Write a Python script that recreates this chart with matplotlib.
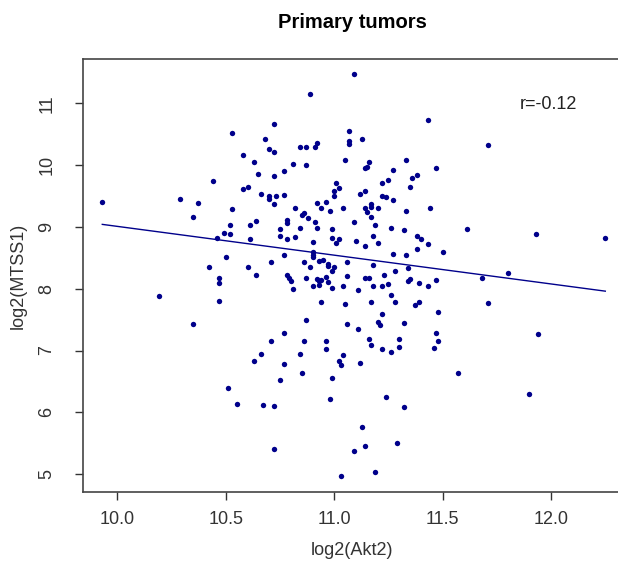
import numpy as np
import matplotlib
matplotlib.use("Agg")
import matplotlib.pyplot as plt

plt.rcParams['font.family'] = ['Liberation Sans', 'DejaVu Sans']

# values
akt2 = [10.53, 10.68, 10.58, 10.63, 10.65, 10.44, 10.58, 10.60, 10.66, 10.29,
        10.37, 9.93, 11.09, 10.89, 11.43, 10.72, 11.07, 11.07, 11.07, 11.13,
        10.92, 10.91, 10.70, 10.72, 10.84, 10.87, 11.05, 11.16, 11.14, 11.15,
        11.33, 11.47, 10.81, 10.87, 11.27, 10.72, 10.77, 11.38, 11.36, 11.25,
        11.22, 11.01, 11.02, 11.00, 11.00, 11.35, 11.14, 11.12, 10.77, 10.70,
        10.73, 10.70, 11.22, 11.24, 11.27, 10.92, 10.96, 11.17, 10.72, 11.71,
        10.53, 10.35, 10.52, 10.52, 10.61, 10.64, 10.49, 10.46, 10.61, 10.50,
        10.42, 10.60, 10.64, 10.47, 10.47, 10.19, 10.47, 10.35,
        10.82, 10.86, 10.94, 10.98, 11.04, 11.14, 11.15, 11.17, 11.17, 11.20,
        11.33, 11.44, 10.78, 10.78, 10.85, 10.88, 10.91, 11.09, 11.19, 11.26,
        11.32, 10.75, 10.84, 10.92, 10.99, 10.75, 10.78, 10.82, 10.99, 11.02,
        11.01, 11.10, 11.18, 11.20, 11.38, 11.40, 11.43, 10.90, 11.14, 11.38,
        11.50, 10.77, 10.90, 10.90, 10.90, 11.27, 11.33, 10.71, 10.86, 10.93,
        10.95, 10.97, 10.97, 11.06, 11.18, 11.34, 10.89, 11.00, 10.99, 11.28,
        10.78, 10.79, 10.80, 10.81, 10.87, 10.92, 10.93, 10.93, 10.94, 10.96,
        10.97, 11.06, 11.14, 11.16, 11.23, 11.35, 11.34, 11.47, 10.90, 10.99,
        11.04, 11.11, 11.18, 11.22, 11.25, 11.39, 11.43, 10.94, 11.05, 11.17,
        11.26, 11.28, 11.39, 11.37, 11.22, 11.48, 10.87, 11.06, 11.20, 11.21,
        11.32, 10.77, 11.11, 11.47, 10.71, 10.86, 10.96, 11.16, 11.17, 11.30,
        11.30, 11.48, 10.96, 11.22, 11.46,
        11.61, 11.93, 12.25, 11.80, 11.68, 11.71, 11.94,
        10.66, 10.63, 10.51, 10.55, 10.67,
        10.84, 11.04, 11.26, 10.77, 11.02, 11.03, 11.12, 10.85, 10.99, 10.75,
        10.72, 10.98, 11.24, 11.32, 11.13, 10.72, 11.09, 11.14, 11.29, 11.03,
        11.19, 11.57, 11.90]

mtss1 = [10.52, 10.42, 10.17, 10.05, 9.86, 9.74, 9.62, 9.65, 9.54, 9.45,
         9.39, 9.40, 11.47, 11.16, 10.73, 10.67, 10.56, 10.40, 10.35, 10.42,
         10.36, 10.30, 10.27, 10.22, 10.29, 10.30, 10.09, 10.06, 9.95, 9.97,
         10.08, 9.95, 10.02, 10.01, 9.93, 9.83, 9.90, 9.84, 9.80, 9.76,
         9.72, 9.72, 9.63, 9.58, 9.51, 9.65, 9.58, 9.54, 9.52, 9.51,
         9.51, 9.45, 9.50, 9.48, 9.43, 9.39, 9.41, 9.38, 9.38, 10.32,
         9.29, 9.16, 9.03, 8.89, 9.03, 9.09, 8.91, 8.82, 8.80, 8.52,
         8.35, 8.35, 8.23, 8.18, 8.09, 7.88, 7.80, 7.43,
         9.30, 9.23, 9.31, 9.26, 9.30, 9.30, 9.24, 9.17, 9.33, 9.31,
         9.26, 9.30, 9.12, 9.07, 9.20, 9.15, 9.08, 9.08, 9.04, 8.98,
         8.95, 8.97, 8.99, 8.98, 8.96, 8.85, 8.80, 8.84, 8.83, 8.80,
         8.74, 8.78, 8.86, 8.74, 8.85, 8.81, 8.73, 8.75, 8.69, 8.64,
         8.60, 8.55, 8.60, 8.55, 8.51, 8.57, 8.55, 8.44, 8.43, 8.45,
         8.47, 8.40, 8.37, 8.43, 8.38, 8.34, 8.35, 8.35, 8.28, 8.28,
         8.23, 8.18, 8.12, 8.00, 8.17, 8.16, 8.12, 8.06, 8.14, 8.19,
         8.11, 8.20, 8.18, 8.17, 8.22, 8.16, 8.12, 8.15, 8.04, 8.02,
         8.04, 7.98, 8.04, 8.05, 8.08, 8.09, 8.05, 7.79, 7.75, 7.78,
         7.90, 7.79, 7.79, 7.74, 7.59, 7.62, 7.49, 7.43, 7.47, 7.42,
         7.45, 7.28, 7.35, 7.28, 7.16, 7.16, 7.16, 7.18, 7.09, 7.18,
         7.06, 7.15, 7.03, 7.03, 7.04,
         8.96, 8.89, 8.83, 8.25, 8.17, 7.77, 7.27,
         6.94, 6.83, 6.40, 6.14, 6.12,
         6.95, 6.93, 6.97, 6.78, 6.83, 6.76, 6.80, 6.64, 6.56, 6.52,
         6.10, 6.21, 6.24, 6.09, 5.76, 5.40, 5.38, 5.46, 5.50, 4.97,
         5.04, 6.64, 6.29]

# least-squares line as drawn in the reference
fit_slope = -0.466
fit_intercept = 13.67
r_label = "r=-0.12"

navy = "#00008B"

fig = plt.figure(figsize=(6.18, 5.69), dpi=100)
ax = fig.add_axes([83 / 618, 77 / 569, 539 / 618, 433 / 569])

ax.scatter(akt2, mtss1, s=15, color=navy, linewidths=0, zorder=3)

xs = np.array([min(akt2), max(akt2)])
ax.plot(xs, fit_intercept + fit_slope * xs, color=navy, lw=1.0)

ax.set_xlim(9.841, 12.327)
ax.set_ylim(4.71, 11.72)
ax.set_xticks([10.0, 10.5, 11.0, 11.5, 12.0])
ax.set_xticklabels(["10.0", "10.5", "11.0", "11.5", "12.0"])
ax.set_yticks([5, 6, 7, 8, 9, 10, 11])
for lab in ax.get_yticklabels():
    lab.set_rotation(90)
    lab.set_va("center")

ax.tick_params(axis="x", direction="out", length=6, width=1, labelsize=13,
               colors="#333333", pad=8)
ax.tick_params(axis="y", direction="out", length=6, width=1, labelsize=13,
               colors="#333333", pad=14)
for sp in ax.spines.values():
    sp.set_color("#444444")
    sp.set_linewidth(1.2)

ax.set_title("Primary tumors", fontsize=14.5, fontweight="bold", pad=22)
ax.set_xlabel("log2(Akt2)", fontsize=13, color="#333333", labelpad=10)
ax.set_ylabel("log2(MTSS1)", fontsize=13, color="#333333", labelpad=8)

ax.text(11.986, 10.98, r_label, fontsize=13, ha="center", va="center", color="#222222")

fig.savefig("out.png", dpi=100)
